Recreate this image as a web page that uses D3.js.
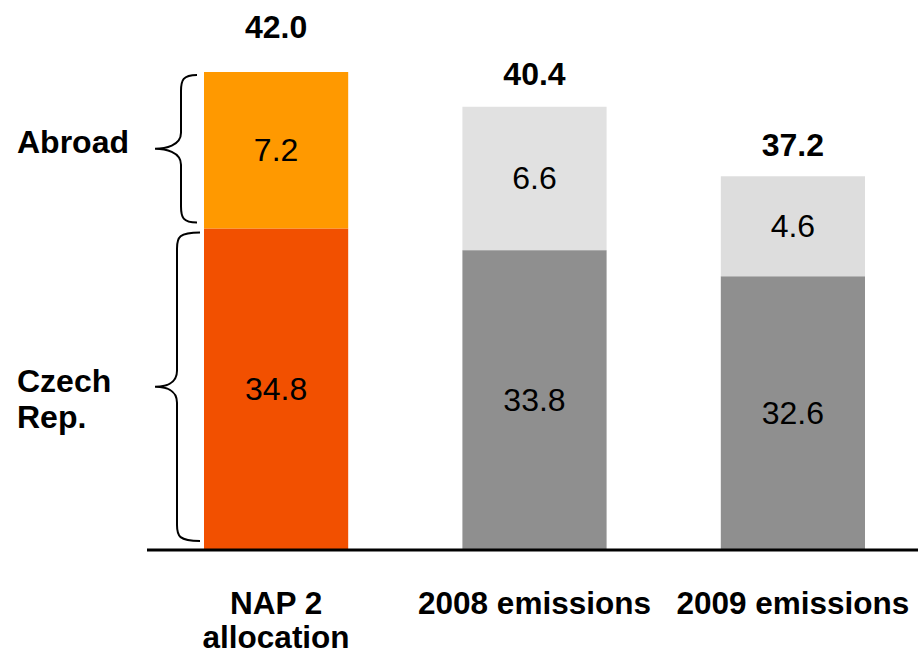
<!DOCTYPE html>
<html>
<head>
<meta charset="utf-8">
<script src="https://d3js.org/d3.v7.min.js"></script>
<style>
  body { margin: 0; background: #fff; }
  text { font-family: "Liberation Sans", Arial, sans-serif; }
</style>
</head>
<body>
<svg id="chart" width="918" height="654"></svg>
<script>
// data
var categories = ["NAP 2 allocation", "2008 emissions", "2009 emissions"];
var categoryLines = [["NAP 2", "allocation"], ["2008 emissions"], ["2009 emissions"]];
var domestic = [34.8, 33.8, 32.6];
var abroad = [7.2, 6.6, 4.6];
var totals = [42.0, 40.4, 37.2];

var domesticColors = ["#F25000", "#8F8F8F", "#8F8F8F"];
var abroadColors = ["#FF9900", "#E1E1E1", "#DDDDDD"];
// gap between bar top and total label (the first one sits above the brace)
var totalGap = [34, 22, 20];

var svg = d3.select("#chart");

var x = d3.scaleBand().domain(categories).range([204, 865]).paddingInner(0.442).paddingOuter(0);
var y = d3.scaleLinear().domain([20, 42]).range([550, 72]);

var rows = categories.map(function(c, i) {
  return {cat: c, dom: domestic[i], abr: abroad[i], total: totals[i], i: i};
});

var g = svg.append("g");

// lower part
g.selectAll("rect.dom")
  .data(rows)
  .enter()
  .append("rect")
    .attr("class", "dom")
    .attr("x", d => x(d.cat))
    .attr("width", x.bandwidth())
    .attr("y", d => y(d.dom))
    .attr("height", d => y(20) - y(d.dom))
    .style("fill", d => domesticColors[d.i]);

// upper part
g.selectAll("rect.abr")
  .data(rows)
  .enter()
  .append("rect")
    .attr("class", "abr")
    .attr("x", d => x(d.cat))
    .attr("width", x.bandwidth())
    .attr("y", d => y(d.dom + d.abr))
    .attr("height", d => y(d.dom) - y(d.dom + d.abr))
    .style("fill", d => abroadColors[d.i]);

// value labels inside segments
g.selectAll("text.domlab")
  .data(rows)
  .enter()
  .append("text")
    .attr("x", d => x(d.cat) + x.bandwidth() / 2)
    .attr("y", d => (y(20) + y(d.dom)) / 2 + 11)
    .attr("text-anchor", "middle")
    .style("font-size", "32px")
    .text(d => d.dom.toFixed(1));

g.selectAll("text.abrlab")
  .data(rows)
  .enter()
  .append("text")
    .attr("x", d => x(d.cat) + x.bandwidth() / 2)
    .attr("y", d => (y(d.dom) + y(d.dom + d.abr)) / 2 + 11)
    .attr("text-anchor", "middle")
    .style("font-size", "32px")
    .text(d => d.abr.toFixed(1));

// totals
g.selectAll("text.total")
  .data(rows)
  .enter()
  .append("text")
    .attr("x", d => x(d.cat) + x.bandwidth() / 2)
    .attr("y", d => y(d.total) - totalGap[d.i])
    .attr("text-anchor", "middle")
    .style("font-size", "32px")
    .style("font-weight", "bold")
    .text(d => d.total.toFixed(1));

// baseline
svg.append("line")
  .attr("x1", 147).attr("x2", 918)
  .attr("y1", y(20)).attr("y2", y(20))
  .style("stroke", "#000")
  .style("stroke-width", 3);

// category labels
var cat = svg.selectAll("text.cat")
  .data(rows)
  .enter()
  .append("text")
    .attr("text-anchor", "middle")
    .style("font-size", "31.5px")
    .style("font-weight", "bold");

cat.selectAll("tspan")
  .data(d => categoryLines[d.i].map(t => ({t: t, cx: x(d.cat) + x.bandwidth() / 2})))
  .enter()
  .append("tspan")
    .attr("x", d => d.cx)
    .attr("y", (d, j) => 614 + j * 34)
    .text(d => d.t);

// curly braces on the left
function brace(xEnd, xLine, xTip, y0, y1) {
  var m = (y0 + y1) / 2, r = 16;
  return "M" + xEnd + "," + y0 +
    " C" + (xLine + 2) + "," + y0 + " " + xLine + "," + (y0 + 5) + " " + xLine + "," + (y0 + r) +
    " L" + xLine + "," + (m - r) +
    " C" + xLine + "," + (m - 3) + " " + (xTip + 10) + "," + m + " " + xTip + "," + m +
    " C" + (xTip + 10) + "," + m + " " + xLine + "," + (m + 3) + " " + xLine + "," + (m + r) +
    " L" + xLine + "," + (y1 - r) +
    " C" + xLine + "," + (y1 - 5) + " " + (xLine + 2) + "," + y1 + " " + xEnd + "," + y1;
}

var bx = x(categories[0]);
svg.append("path")
  .attr("d", brace(bx - 7, 181, 155, y(42) + 3, y(34.8) - 6))
  .style("fill", "none").style("stroke", "#000").style("stroke-width", 2);
svg.append("path")
  .attr("d", brace(bx - 4, 177, 155, y(34.8) + 4, y(20) - 9))
  .style("fill", "none").style("stroke", "#000").style("stroke-width", 2);

// brace labels
svg.append("text")
  .attr("x", 17).attr("y", 153)
  .style("font-size", "32px").style("font-weight", "bold")
  .text("Abroad");

var cz = svg.append("text")
  .style("font-size", "32px").style("font-weight", "bold");
cz.append("tspan").attr("x", 17).attr("y", 392).text("Czech");
cz.append("tspan").attr("x", 17).attr("y", 428).text("Rep.");
</script>
</body>
</html>
